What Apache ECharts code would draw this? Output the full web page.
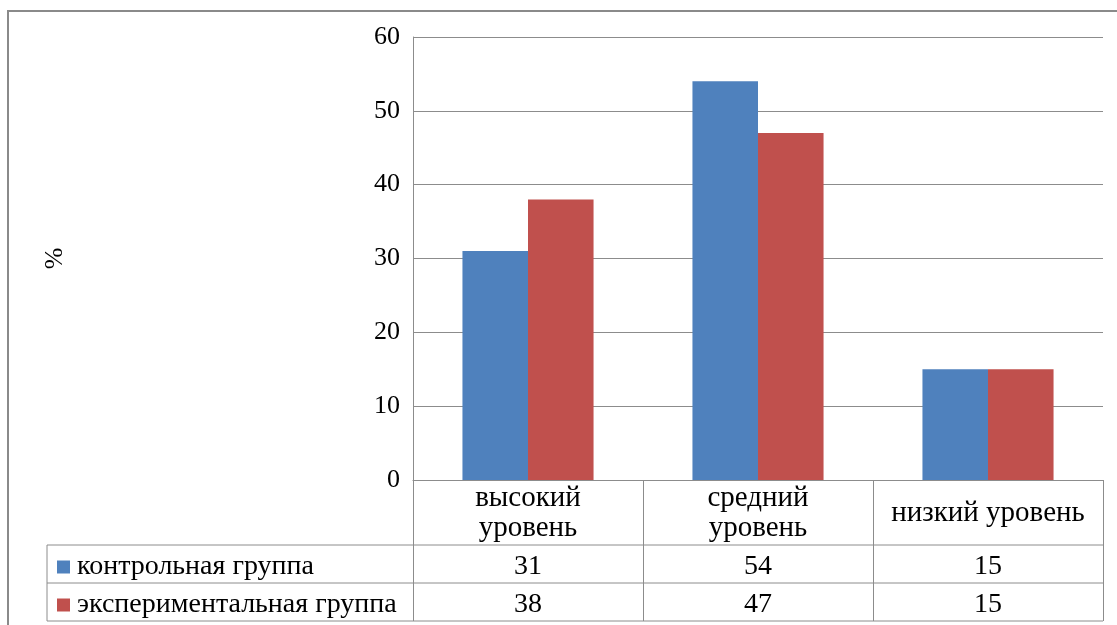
<!DOCTYPE html>
<html>
<head>
<meta charset="utf-8">
<style>
  html, body { margin: 0; padding: 0; background: #fff; }
  #chart { width: 1117px; height: 625px; }
</style>
<script src="https://cdn.jsdelivr.net/npm/echarts@6/dist/echarts.min.js"></script>
</head>
<body>
<div id="chart"></div>
<script>
// Levels and percentages per group
const categories = ['высокий\nуровень', 'средний\nуровень', 'низкий уровень'];
const seriesNames = ['контрольная группа', 'экспериментальная группа'];
const controlValues = [31, 54, 15];
const experimentValues = [38, 47, 15];
const yTicks = { min: 0, max: 60, interval: 10 };

const FONT = '"Liberation Serif", "Times New Roman", serif';
const GRAY = '#8c8c8c';
const BLUE = '#4f81bd';
const RED = '#c0504d';

const chart = echarts.init(document.getElementById('chart'));

const gridLeft = 413, gridRight = 1103, gridTop = 37, gridBottom = 480;
const row1 = 545, row2 = 583, row3 = 621, legendLeft = 47;
// text baseline nudge so glyphs sit centred in each table row
const textNudge = 3;
const rowMid1 = (row1 + row2) / 2 + textNudge, rowMid2 = (row2 + row3) / 2 + textNudge;

// value row of the data table under the plot
function tableAxis(values, offset) {
  return {
    type: 'category',
    data: categories,
    position: 'bottom',
    offset: offset,
    axisLine: { show: false },
    axisTick: { show: false },
    axisLabel: {
      interval: 0,
      hideOverlap: false,
      formatter: (v, i) => String(values[i]),
      fontFamily: FONT, fontSize: 28, color: '#000',
      margin: 0, verticalAlign: 'middle'
    }
  };
}

// one legend key per table row
function rowLegend(name, centerY) {
  return {
    orient: 'vertical',
    left: 57, top: centerY - 14,
    padding: 0,
    itemWidth: 13, itemHeight: 13, itemGap: 6,
    icon: 'rect',
    textStyle: { fontFamily: FONT, fontSize: 28, color: '#000', lineHeight: 28, padding: [0, 0, 0, 2] },
    data: [name]
  };
}

chart.setOption({
  animation: false,
  backgroundColor: '#fff',
  grid: { left: gridLeft, right: 1117 - gridRight, top: gridTop, bottom: 625 - gridBottom },
  legend: [rowLegend(seriesNames[0], rowMid1), rowLegend(seriesNames[1], rowMid2)],
  xAxis: [
    {
      type: 'category',
      data: categories,
      axisLine: { show: true, lineStyle: { color: GRAY, width: 1 } },
      axisTick: { show: true, interval: 0, length: row3 - gridBottom, lineStyle: { color: GRAY } },
      axisLabel: {
        interval: 0,
        hideOverlap: false,
        fontFamily: FONT, fontSize: 29, color: '#000', lineHeight: 30,
        margin: 33, verticalAlign: 'middle', align: 'center'
      }
    },
    tableAxis(controlValues, rowMid1 - gridBottom),
    tableAxis(experimentValues, rowMid2 - gridBottom)
  ],
  yAxis: {
    type: 'value',
    min: yTicks.min, max: yTicks.max, interval: yTicks.interval,
    name: '%',
    nameLocation: 'middle',
    nameGap: gridLeft - 68,
    nameRotate: 90,
    nameTextStyle: { fontFamily: FONT, fontSize: 26, color: '#000' },
    axisLine: { show: true, lineStyle: { color: GRAY } },
    axisTick: { show: false },
    axisLabel: { fontFamily: FONT, fontSize: 26, color: '#000', margin: 13 },
    splitLine: { lineStyle: { color: GRAY, width: 1 } }
  },
  series: [
    {
      name: seriesNames[0], type: 'bar', data: controlValues,
      itemStyle: { color: BLUE }, barGap: 0, barCategoryGap: '43%'
    },
    {
      name: seriesNames[1], type: 'bar', data: experimentValues,
      itemStyle: { color: RED }, barGap: 0, barCategoryGap: '43%'
    }
  ],
  graphic: [
    // outer frame
    { type: 'rect', silent: true, z: -1,
      shape: { x: 8, y: 11, width: 1300, height: 800 },
      style: { fill: null, stroke: '#8a8a8a', lineWidth: 2 } },
    // data table rules
    { type: 'line', shape: { x1: legendLeft, y1: row1, x2: gridRight, y2: row1 }, style: { stroke: GRAY, lineWidth: 1 } },
    { type: 'line', shape: { x1: legendLeft, y1: row2, x2: gridRight, y2: row2 }, style: { stroke: GRAY, lineWidth: 1 } },
    { type: 'line', shape: { x1: legendLeft, y1: row3, x2: gridRight, y2: row3 }, style: { stroke: GRAY, lineWidth: 1 } },
    { type: 'line', shape: { x1: legendLeft, y1: row1, x2: legendLeft, y2: row3 }, style: { stroke: GRAY, lineWidth: 1 } }
  ]
});
</script>
</body>
</html>
